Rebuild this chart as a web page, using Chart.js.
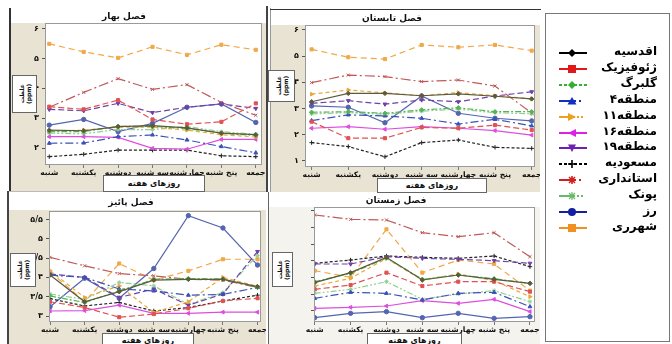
<!DOCTYPE html>
<html><head><meta charset="utf-8">
<script src="https://cdn.jsdelivr.net/npm/chart.js@4.4.1/dist/chart.umd.min.js"></script>
<style>
body{margin:0;width:672px;height:344px;overflow:hidden;background:#fff;position:relative;font-family:'DejaVu Sans',sans-serif}
.bg{position:absolute}
.ln{position:absolute}
canvas{position:absolute}
.title{position:absolute;font-weight:bold;font-size:9px;white-space:nowrap;direction:rtl;transform:translate(-50%,-50%);color:#111}
.xbox{position:absolute;background:#fff;border:1px solid #666;font-weight:bold;font-size:8px;display:flex;align-items:center;justify-content:center;direction:rtl;box-sizing:border-box;color:#111}
.ybox{position:absolute;background:#fff;border:1px solid #666;box-sizing:border-box;display:flex;align-items:center;justify-content:center;overflow:hidden}
.ybox span{writing-mode:vertical-rl;transform:rotate(180deg);font-weight:bold;font-size:6px;line-height:7px;direction:rtl;white-space:normal;text-align:center;color:#111}
#legend{position:absolute;left:545px;top:13px;width:125px;height:329px;border:1px solid #777;box-sizing:border-box;background:#fff}
.li{position:absolute;left:0;width:125px;height:16px}
.li svg{position:absolute;left:12px;top:2px}
.li span{position:absolute;right:14px;top:-1px;font-weight:bold;font-size:12px;direction:rtl;white-space:nowrap;color:#000}
</style></head>
<body>
<script>
// ---------- data ----------
const days = ['شنبه','یکشنبه','دوشنبه','سه شنبه','چهارشنبه','پنج شنبه','جمعه'];
const seriesNames = ['اقدسیه','ژئوفیزیک','گلبرگ','منطقه۴','منطقه۱۱','منطقه۱۶','منطقه۱۹','مسعودیه','استانداری','پونک','رز','شهرری'];
const seasonTitles = ['فصل بهار','فصل تابستان','فصل پائیز','فصل زمستان'];
const xAxisTitle = 'روزهای هفته';
const yAxisTitle = 'غلظت (ppm)';

const springTickValues = [2,3,4,5,6];
const springTickLabels = ['۲','۳','۴','۵','۶'];
const summerTickValues = [1,2,3,4,5,6];
const summerTickLabels = ['۱','۲','۳','۴','۵','۶'];
const autumnTickValues = [3,3.5,4,4.5,5,5.5];
const autumnTickLabels = ['۳','۳/۵','۴','۴/۵','۵','۵/۵'];
const winterTickValues = [1,2,3,4,5,6,7];
const winterTickLabels = ['','','','','','',''];

// rows follow seriesNames order, columns follow days
const spring = [
 [2.60,2.58,2.72,2.75,2.68,2.50,2.45],
 [3.39,3.30,3.61,2.96,2.80,2.88,3.50],
 [2.55,2.55,2.73,2.73,2.65,2.50,2.42],
 [2.16,2.17,2.38,2.44,2.27,2.05,1.84],
 [2.57,2.60,2.70,2.70,2.60,2.45,2.37],
 [2.38,2.38,2.36,1.99,1.96,2.29,2.29],
 [3.30,3.25,3.50,3.19,3.37,3.48,3.33],
 [1.71,1.79,1.93,1.93,1.93,1.74,1.71],
 [3.37,3.87,4.33,3.97,4.13,3.53,3.10],
 [2.50,2.48,2.62,2.62,2.72,2.55,2.46],
 [2.77,2.96,2.55,2.83,3.37,3.48,2.86],
 [5.50,5.23,5.03,5.40,5.13,5.47,5.30]
];
const summer = [
 [3.26,3.58,3.58,3.49,3.56,3.47,3.37],
 [2.50,1.87,1.87,2.28,2.25,2.37,2.18],
 [2.86,2.88,2.82,2.95,3.03,2.88,2.88],
 [2.54,2.76,2.72,2.63,2.41,2.59,2.34],
 [3.55,3.71,3.60,3.49,3.61,3.49,3.37],
 [2.25,2.31,2.21,2.31,2.25,2.16,1.99],
 [3.20,3.30,3.17,3.33,3.26,3.48,3.64],
 [1.70,1.55,1.16,1.70,1.80,1.52,1.48],
 [3.99,4.28,4.22,4.03,4.09,3.86,2.83],
 [2.80,2.84,2.78,2.90,2.98,2.84,2.80],
 [3.10,3.05,2.46,3.48,2.82,2.63,2.53],
 [5.26,4.96,4.89,5.43,5.34,5.43,5.21]
];
const autumn = [
 [4.06,3.37,3.63,3.93,3.95,3.95,3.76],
 [3.37,3.22,2.97,3.05,3.20,3.39,3.46],
 [3.52,3.35,3.65,3.95,3.97,3.96,3.74],
 [4.06,4.00,3.70,3.65,3.54,3.56,3.74],
 [4.17,3.48,3.78,3.09,3.37,4.00,3.77],
 [3.13,3.14,3.28,3.07,3.07,3.10,3.10],
 [4.09,4.00,3.48,3.70,3.28,3.57,4.67],
 [3.45,3.26,3.35,3.13,3.22,3.39,3.54],
 [4.52,4.30,4.10,4.04,3.95,3.93,3.74],
 [3.57,3.43,3.87,3.78,3.30,3.61,4.57],
 [3.24,3.98,3.46,4.23,5.60,5.28,4.32],
 [4.15,3.37,4.36,3.93,4.17,4.47,4.47]
];
const winter = [
 [2.68,3.28,4.20,2.84,3.14,2.88,2.64],
 [2.28,2.54,3.28,2.48,2.74,2.74,2.14],
 [2.74,3.24,4.16,2.88,3.14,2.92,2.64],
 [1.74,2.10,2.04,1.64,2.04,2.10,1.24],
 [2.48,2.94,4.14,2.84,3.20,2.80,1.84],
 [1.14,1.20,1.28,1.60,1.44,1.68,0.94],
 [3.80,3.80,4.24,4.14,4.08,4.00,3.84],
 [3.84,4.04,4.28,4.20,4.14,4.28,3.64],
 [6.74,6.48,6.44,5.68,5.44,5.68,4.24],
 [2.04,2.28,2.74,1.68,2.00,2.20,1.54],
 [0.58,0.84,0.94,0.58,0.84,0.54,0.64],
 [3.40,3.00,5.88,3.28,4.04,3.80,2.20]
];

// ---------- styles ----------
const colors = ['#5b5b3c','#e05252','#55b455','#3a52b8','#eaa83c','#de4ede','#7040a8','#222222','#c05a5a','#94cf94','#5465b0','#f0a848'];
const dashes = [[],[6,3],[6,2,2,2],[8,3,2,3],[4,3],[],[6,3],[3,2],[10,3,2,3],[6,2,2,2,2,2],[],[6,4]];
const pStyles = ['rectRot','rect','rectRot','triangle','triangle','triangle','triangle','cross','crossRot','star','circle','rect'];
const pRot = [0,0,0,0,90,-90,180,0,0,0,0,0];
const FONT = "'DejaVu Sans', sans-serif";

function el(tag, cls, css, html){const e=document.createElement(tag); if(cls)e.className=cls; Object.assign(e.style,css||{}); if(html!==undefined)e.innerHTML=html; document.body.appendChild(e); return e;}
const px = v => v+'px';
function rect(cls,x,y,w,h,bg){return el('div',cls,{left:px(x),top:px(y),width:px(w),height:px(h),background:bg});}

// backgrounds
rect('bg',10,23,256,169,'#e9e3d3');      // spring
rect('bg',271,25,269,167,'#e9e3d3');     // summer
rect('bg',8,210,258,134,'#e9e3d3');      // autumn
rect('bg',269,207,271,137,'#f5f3ee');    // winter
// frame lines
rect('ln',9,8,1.5,184,'#333');
rect('ln',266,6,1.5,186,'#444');
rect('ln',270,8,1,184,'#999');
rect('ln',270,9,271,1.2,'#333');
rect('ln',7,191,259,1,'#bbb');
rect('ln',7,191,1.5,153,'#444');
rect('ln',268,192,1.2,152,'#666');

const areaPlugin = {
  id:'area',
  beforeDraw(chart){const a=chart.chartArea,c=chart.ctx; c.save(); c.fillStyle='#fff'; c.fillRect(a.left,a.top,a.right-a.left,a.bottom-a.top); c.restore();},
  afterDraw(chart){const a=chart.chartArea,c=chart.ctx; c.save(); c.strokeStyle='#9a9a9a'; c.lineWidth=1; c.strokeRect(a.left+0.5,a.top+0.5,a.right-a.left-1,a.bottom-a.top-1); c.restore();}
};

const panels = [
 {cv:[0,0,267,192], pl:[45,23,263,165], xmin:-0.124, xmax:6.18, ymin:1.43, ymax:6.2, tv:springTickValues, tl:springTickLabels, data:spring, title:[124,16], xbox:[103,175,102,17], ybox:[12,75,25,38]},
 {cv:[271,0,269,193], pl:[305,25,535,167], xmin:-0.18, xmax:6.09, ymin:0.77, ymax:6.19, tv:summerTickValues, tl:summerTickLabels, data:summer, title:[392,18], xbox:[377,178,110,15], ybox:[268,70,27,32]},
 {cv:[8,192,258,152], pl:[49,211,264,322], xmin:-0.03, xmax:6.1, ymin:2.845, ymax:5.72, tv:autumnTickValues, tl:autumnTickLabels, data:autumn, title:[131,202], xbox:[102,333,92,14], ybox:[10,253,26,34]},
 {cv:[269,192,271,152], pl:[314,207,538,322], xmin:-0.02, xmax:6.14, ymin:0.32, ymax:7.22, tv:winterTickValues, tl:winterTickLabels, data:winter, title:[396,200], xbox:[367,333,95,14], ybox:[272,252,21,35]}
];

panels.forEach((p,k)=>{
  const [cx,cy,cw,ch]=p.cv, [x1,y1,x2,y2]=p.pl;
  const c=document.createElement('canvas'); c.width=cw; c.height=ch; c.style.left=px(cx); c.style.top=px(cy); c.style.width=px(cw); c.style.height=px(ch);
  document.body.appendChild(c);
  const yW=x1-cx, padT=y1-cy, padR=cx+cw-x2, xH=cy+ch-y2;
  new Chart(c,{
    type:'line',
    data:{datasets:seriesNames.map((n,i)=>({
      label:n, data:p.data[i].map((v,j)=>({x:j,y:v})),
      borderColor:colors[i], backgroundColor:colors[i], borderWidth:1.2, borderDash:dashes[i],
      pointStyle:pStyles[i], rotation:pRot[i], pointRadius:2.2, pointBorderWidth:1, tension:0, fill:false
    }))},
    options:{
      responsive:false, animation:false, devicePixelRatio:1,
      layout:{padding:{left:0,top:padT,right:padR,bottom:0}},
      plugins:{legend:{display:false},title:{display:false},tooltip:{enabled:false}},
      scales:{
        x:{type:'linear',min:p.xmin,max:p.xmax,
          afterBuildTicks:s=>{s.ticks=days.map((d,i)=>({value:i}));},
          afterFit:s=>{s.height=xH; s.paddingLeft=0; s.paddingRight=0;},
          ticks:{callback:(v,i)=>days[i],autoSkip:false,maxRotation:0,minRotation:0,font:{family:FONT,size:7.5,weight:'bold'},color:'#111',padding:1},
          grid:{drawOnChartArea:false,drawTicks:true,tickLength:3,color:'#777'},border:{display:false}},
        y:{min:p.ymin,max:p.ymax,
          afterBuildTicks:s=>{s.ticks=p.tv.map(v=>({value:v}));},
          afterFit:s=>{s.width=yW; s.paddingTop=0; s.paddingBottom=0;},
          ticks:{callback:(v,i)=>p.tl[i],font:{family:FONT,size:8,weight:'bold'},color:'#111',padding:3},
          grid:{drawOnChartArea:false,drawTicks:true,tickLength:3,color:'#555'},border:{display:false}}
      }
    },
    plugins:[areaPlugin]
  });
  el('div','title',{left:px(p.title[0]),top:px(p.title[1])},seasonTitles[k]);
  el('div','xbox',{left:px(p.xbox[0]),top:px(p.xbox[1]),width:px(p.xbox[2]),height:px(p.xbox[3])},xAxisTitle);
  el('div','ybox',{left:px(p.ybox[0]),top:px(p.ybox[1]),width:px(p.ybox[2]),height:px(p.ybox[3])},'<span>'+yAxisTitle+'</span>');
});

// ---------- legend ----------
const legColors = ['#000','#e01818','#33b033','#1030c0','#f0a020','#e020e0','#7020b0','#000','#d02020','#66bb66','#1020a0','#f09020'];
const legDash = ['','','3,2','17,3,2,20','16,2,2,2,2,20','','','3,2','17,3,2,20','16,2,2,2,2,20','',''];
function marker(i,c){
  switch(i){
    case 0: case 2: return `<polygon points="14,2 18,6 14,10 10,6" fill="${c}"/>`;
    case 1: case 11: return `<rect x="10" y="2" width="8" height="8" fill="${c}"/>`;
    case 3: return `<polygon points="14,2 18.5,9.5 9.5,9.5" fill="${c}"/>`;
    case 4: return `<polygon points="10,2 18,6 10,10" fill="${c}"/>`;
    case 5: return `<polygon points="18,2 10,6 18,10" fill="${c}"/>`;
    case 6: return `<polygon points="10,2.5 18,2.5 14,10" fill="${c}"/>`;
    case 7: return `<path d="M14,2 V10 M10,6 H18" stroke="${c}" stroke-width="1.6"/>`;
    case 8: return `<path d="M11,3 L17,9 M17,3 L11,9 M14,2 V10" stroke="${c}" stroke-width="1.6"/>`;
    case 9: return `<path d="M11,3 L17,9 M17,3 L11,9 M14,2 V10" stroke="${c}" stroke-width="1.2"/>`;
    case 10: return `<circle cx="14" cy="6" r="4" fill="${c}"/>`;
  }
}
const leg = el('div',null,{}); leg.id='legend';
seriesNames.forEach((n,i)=>{
  const y = 52 + i*15.9 - 13 - 8;
  const d = document.createElement('div'); d.className='li'; d.style.top=px(y);
  const c = legColors[i];
  d.innerHTML = `<svg width="30" height="12"><line x1="1" y1="6" x2="29" y2="6" stroke="${c}" stroke-width="2" ${legDash[i]?`stroke-dasharray="${legDash[i]}"`:''}/>${marker(i,c)}</svg><span>${n}</span>`;
  leg.appendChild(d);
});
</script>
</body></html>
